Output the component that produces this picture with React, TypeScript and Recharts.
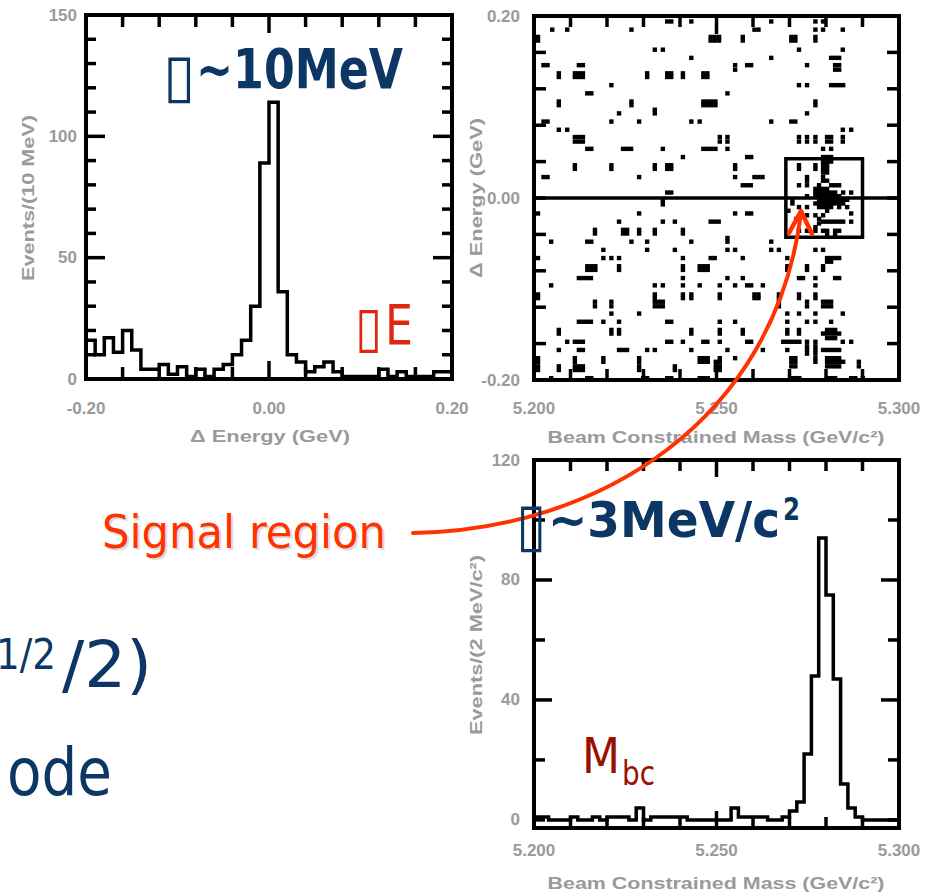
import React from "react";
import {
  ComposedChart,
  ScatterChart,
  Line,
  Scatter,
  XAxis,
  YAxis,
  ReferenceLine,
  ReferenceArea,
} from "recharts";

// ---------------- data ----------------
// ΔE histogram: bin edges (GeV) and counts per 10 MeV bin
const deltaEEdges = [
  -0.2, -0.19, -0.18, -0.17, -0.16, -0.15, -0.14, -0.13, -0.12, -0.11, -0.1,
  -0.09, -0.08, -0.07, -0.06, -0.05, -0.04, -0.03, -0.02, -0.01, 0, 0.01, 0.02,
  0.03, 0.04, 0.05, 0.06, 0.07, 0.08, 0.09, 0.1, 0.11, 0.12, 0.13, 0.14, 0.15,
  0.16, 0.17, 0.18, 0.19, 0.2,
];
const deltaECounts = [
  16, 10, 17, 11, 20, 12, 4, 4, 6, 2, 5, 1, 4, 1, 4, 6, 10, 16, 30, 89, 114, 36,
  10, 7, 3, 5, 7, 3, 1, 1, 1, 1, 4, 1, 3, 1, 1, 1, 3, 3,
];

// Mbc histogram: bin edges (GeV/c^2) and counts per 2 MeV bin
const mbcEdges = [
  5.2, 5.202, 5.204, 5.206, 5.208, 5.21, 5.212, 5.214, 5.216, 5.218, 5.22,
  5.222, 5.224, 5.226, 5.228, 5.23, 5.232, 5.234, 5.236, 5.238, 5.24, 5.242,
  5.244, 5.246, 5.248, 5.25, 5.252, 5.254, 5.256, 5.258, 5.26, 5.262, 5.264,
  5.266, 5.268, 5.27, 5.272, 5.274, 5.276, 5.278, 5.28, 5.282, 5.284, 5.286,
  5.288, 5.29, 5.292, 5.294, 5.296, 5.298, 5.3,
];
const mbcCounts = [
  1, 1, 0, 0, 0, 1, 0, 0, 1, 0, 1, 1, 1, 0, 4, 0, 1, 1, 1, 1, 1, 0, 0, 0, 0, 0,
  0, 4, 1, 1, 1, 1, 0, 0, 1, 3, 6, 22, 48, 94, 75, 47, 12, 4, 1, 0, 0, 0, 0, 0,
];

// scatter events: [Mbc, ΔE]
const events: [number, number][] = [
  [5.2365,0.194],[5.2376,0.194],[5.2431,0.194],[5.205,0.185],[5.2091,0.185],[5.2267,0.185],
  [5.2011,0.177],[5.2011,0.173],[5.2484,0.177],[5.2495,0.177],[5.2507,0.177],[5.2484,0.173],[5.2495,0.173],[5.2507,0.173],
  [5.2331,0.163],[5.2353,0.163],[5.2431,0.154],[5.2026,0.146],[5.2037,0.146],[5.2123,0.146],[5.2134,0.146],
  [5.2068,0.137],[5.2068,0.133],[5.2112,0.137],[5.2123,0.137],[5.2134,0.137],[5.2112,0.133],[5.2123,0.133],[5.2134,0.133],
  [5.231,0.137],[5.231,0.133],[5.2365,0.137],[5.2376,0.137],[5.2365,0.133],[5.2376,0.133],[5.2408,0.137],[5.2408,0.133],
  [5.2464,0.137],[5.2475,0.137],[5.2464,0.133],[5.2475,0.133],[5.2212,0.124],[5.2146,0.115],[5.2157,0.115],
  [5.2068,0.106],[5.2068,0.102],[5.2267,0.106],[5.2267,0.102],
  [5.2464,0.106],[5.2475,0.106],[5.2486,0.106],[5.2497,0.106],[5.2464,0.102],[5.2475,0.102],[5.2486,0.102],[5.2497,0.102],
  [5.2233,0.093],[5.2331,0.097],[5.2331,0.093],
  [5.2026,0.084],[5.2037,0.084],[5.2212,0.084],[5.2288,0.084],[5.2431,0.084],[5.2454,0.084],[5.2068,0.075],[5.2091,0.075],
  [5.2112,0.067],[5.2123,0.067],[5.2134,0.067],[5.2112,0.062],[5.2123,0.062],[5.2134,0.062],
  [5.2146,0.054],[5.2157,0.054],[5.2244,0.054],[5.2255,0.054],[5.2266,0.054],[5.2353,0.054],
  [5.2464,0.054],[5.2475,0.054],[5.2486,0.054],[5.2497,0.054],[5.2408,0.045],
  [5.2112,0.036],[5.2112,0.032],[5.2212,0.036],[5.2212,0.032],[5.2331,0.036],[5.2331,0.032],
  [5.2365,0.036],[5.2376,0.036],[5.2365,0.032],[5.2376,0.032],[5.2026,0.023],[5.2037,0.023],[5.2288,0.023],
  [5.2365,0.006],[5.2376,0.006],
  [5.265,0.194],[5.2771,0.194],[5.2792,0.194],[5.2604,0.185],[5.2615,0.185],[5.2771,0.185],[5.2792,0.185],[5.2846,0.185],
  [5.2572,0.177],[5.2572,0.173],[5.2705,0.177],[5.2716,0.177],[5.2705,0.173],[5.2716,0.173],[5.2771,0.177],[5.2771,0.173],
  [5.2726,0.163],[5.2846,0.163],[5.265,0.154],[5.2814,0.154],[5.2825,0.154],[5.2836,0.154],
  [5.2551,0.146],[5.2551,0.141],[5.2584,0.146],[5.2595,0.146],[5.2748,0.146],
  [5.2825,0.146],[5.2836,0.146],[5.2825,0.141],[5.2836,0.141],
  [5.2726,0.124],[5.2748,0.124],[5.2814,0.124],[5.2825,0.124],[5.2836,0.124],[5.2847,0.124],[5.253,0.115],
  [5.2771,0.106],[5.2771,0.102],[5.2748,0.093],[5.265,0.084],[5.2705,0.084],[5.2716,0.084],[5.2846,0.075],[5.2869,0.075],
  [5.2509,0.067],[5.2509,0.062],[5.253,0.067],[5.253,0.062],[5.2726,0.067],[5.2726,0.062],[5.2748,0.067],[5.2748,0.062],
  [5.2771,0.067],[5.2771,0.062],[5.2803,0.067],[5.2814,0.067],[5.2803,0.062],[5.2814,0.062],[5.2846,0.067],[5.2846,0.062],
  [5.253,0.054],[5.2792,0.054],[5.2814,0.054],[5.2584,0.045],[5.2595,0.045],[5.2792,0.045],[5.2803,0.045],[5.2814,0.045],
  [5.2551,0.036],[5.2551,0.032],[5.2551,0.023],[5.2604,0.023],[5.2615,0.023],[5.2626,0.023],[5.2572,0.014],[5.2583,0.014],[5.2594,0.014],
  [5.2726,0.036],[5.2726,0.032],[5.2726,0.014],[5.2726,-0.01],[5.2726,-0.023],[5.2726,-0.036],
  [5.2748,0.023],[5.2748,0.019],[5.2748,0.014],[5.2748,0.002],[5.2748,-0.01],[5.2748,-0.019],[5.2748,-0.036],
  [5.2771,0.036],[5.2771,0.032],[5.2771,0.01],[5.2771,0.006],[5.2771,0.002],[5.2771,-0.006],[5.2771,-0.019],[5.2771,-0.032],[5.2771,-0.036],
  [5.2781,0.014],[5.2781,0.01],[5.2781,0.006],[5.2781,0.002],[5.2781,-0.002],[5.2781,-0.006],[5.2781,-0.01],[5.2781,-0.023],[5.2781,-0.028],
  [5.2792,0.04],[5.2792,0.036],[5.2792,0.032],[5.2792,0.028],[5.2792,0.023],[5.2792,0.019],[5.2792,0.01],[5.2792,0.006],[5.2792,0.002],
  [5.2792,-0.002],[5.2792,-0.006],[5.2792,-0.01],[5.2792,-0.019],[5.2792,-0.026],[5.2792,-0.036],
  [5.2803,0.04],[5.2803,0.036],[5.2803,0.032],[5.2803,0.028],[5.2803,0.019],[5.2803,0.01],[5.2803,0.006],[5.2803,0.002],
  [5.2803,-0.002],[5.2803,-0.006],[5.2803,-0.01],[5.2803,-0.014],[5.2803,-0.026],[5.2803,-0.036],[5.2803,-0.04],
  [5.2814,0.04],[5.2814,0.014],[5.2814,0.006],[5.2814,0.002],[5.2814,-0.002],[5.2814,-0.006],[5.2814,-0.01],[5.2814,-0.026],
  [5.2825,0.014],[5.2825,0.006],[5.2825,0.002],[5.2825,-0.002],[5.2825,-0.006],[5.2825,-0.026],[5.2825,-0.036],[5.2825,-0.04],
  [5.2836,0.014],[5.2836,0.002],[5.2836,-0.002],[5.2836,-0.006],[5.2836,-0.01],[5.2836,-0.026],[5.2836,-0.036],
  [5.2847,0.006],[5.2847,-0.002],[5.2847,-0.006],[5.2847,-0.026],[5.2858,-0.002],[5.2858,-0.01],
  [5.2869,0.006],[5.2869,-0.017],[5.2869,-0.026],[5.2708,-0.002],[5.2708,-0.006],[5.2697,-0.014],[5.2719,-0.023],
  [5.2353,-0.003],[5.2353,-0.007],[5.2011,-0.017],[5.2288,-0.017],
  [5.2233,-0.026],[5.2353,-0.026],[5.2386,-0.026],[5.2484,-0.026],[5.2495,-0.026],[5.2506,-0.026],
  [5.2167,-0.035],[5.2167,-0.039],[5.2244,-0.035],[5.2255,-0.035],[5.2244,-0.039],[5.2255,-0.039],[5.2288,-0.035],[5.2288,-0.039],
  [5.2331,-0.035],[5.2331,-0.039],[5.2408,-0.035],[5.2408,-0.039],
  [5.2047,-0.048],[5.2146,-0.048],[5.2157,-0.048],[5.2267,-0.048],[5.231,-0.048],[5.2431,-0.048],
  [5.219,-0.057],[5.231,-0.057],[5.2386,-0.057],
  [5.2011,-0.066],[5.219,-0.066],[5.2212,-0.066],[5.2233,-0.066],[5.2408,-0.066],[5.2484,-0.066],[5.2495,-0.066],
  [5.2146,-0.075],[5.2157,-0.075],[5.2168,-0.075],[5.2146,-0.079],[5.2157,-0.079],[5.2168,-0.079],
  [5.2233,-0.075],[5.2233,-0.079],[5.2408,-0.075],[5.2408,-0.079],
  [5.2454,-0.075],[5.2465,-0.075],[5.2476,-0.075],[5.2454,-0.079],[5.2465,-0.079],[5.2476,-0.079],
  [5.2123,-0.088],[5.2134,-0.088],[5.2145,-0.088],[5.2156,-0.088],[5.2408,-0.088],
  [5.2047,-0.096],[5.2331,-0.096],[5.2353,-0.096],[5.2408,-0.096],[5.2454,-0.096],
  [5.2011,-0.106],[5.2011,-0.11],[5.2331,-0.106],[5.2331,-0.11],[5.2408,-0.106],[5.2408,-0.11],[5.2431,-0.106],[5.2431,-0.11],
  [5.2331,-0.114],[5.2342,-0.114],[5.2353,-0.114],[5.2331,-0.119],[5.2342,-0.119],[5.2353,-0.119],
  [5.2167,-0.114],[5.2167,-0.119],[5.2212,-0.114],[5.2212,-0.119],[5.2212,-0.127],[5.2288,-0.127],
  [5.2123,-0.136],[5.2134,-0.136],[5.2145,-0.136],[5.2156,-0.136],[5.219,-0.136],[5.2233,-0.136],[5.2365,-0.136],[5.2376,-0.136],
  [5.2068,-0.145],[5.2068,-0.149],[5.2212,-0.145],[5.2212,-0.149],[5.2233,-0.145],[5.2233,-0.149],[5.2431,-0.145],[5.2431,-0.149],
  [5.2091,-0.158],[5.2112,-0.158],[5.2123,-0.158],[5.2134,-0.158],[5.2365,-0.158],[5.2376,-0.158],[5.2408,-0.158],[5.2464,-0.158],[5.2475,-0.158],
  [5.2068,-0.167],[5.2123,-0.167],[5.2134,-0.167],[5.2233,-0.167],[5.2244,-0.167],[5.2255,-0.167],[5.231,-0.167],[5.2331,-0.167],[5.2431,-0.167],
  [5.2011,-0.176],[5.2011,-0.18],[5.2011,-0.185],[5.2011,-0.189],[5.2112,-0.176],[5.2112,-0.18],[5.219,-0.176],[5.219,-0.18],
  [5.2288,-0.176],[5.2288,-0.18],[5.2288,-0.185],[5.2288,-0.189],
  [5.2454,-0.176],[5.2465,-0.176],[5.2476,-0.176],[5.2454,-0.18],[5.2465,-0.18],[5.2476,-0.18],
  [5.2068,-0.185],[5.2068,-0.189],[5.2112,-0.185],[5.2123,-0.185],[5.2134,-0.185],[5.2112,-0.189],[5.2123,-0.189],[5.2134,-0.189],
  [5.2386,-0.185],[5.2386,-0.189],[5.2498,-0.18],[5.2498,-0.185],[5.2498,-0.189],
  [5.2047,-0.198],[5.2146,-0.198],[5.2157,-0.198],[5.2299,-0.198],[5.231,-0.198],[5.2365,-0.198],[5.2376,-0.198],[5.2454,-0.198],[5.2465,-0.198],[5.2476,-0.198],
  [5.2551,-0.017],[5.2584,-0.017],[5.2595,-0.017],[5.253,-0.044],[5.253,-0.048],[5.265,-0.048],
  [5.253,-0.057],[5.2551,-0.057],[5.265,-0.057],[5.2671,-0.057],[5.2771,-0.057],[5.2792,-0.057],
  [5.2572,-0.066],[5.2694,-0.066],[5.2803,-0.066],[5.2814,-0.066],[5.2825,-0.066],[5.2836,-0.066],[5.2803,-0.07],[5.2814,-0.07],
  [5.2694,-0.075],[5.2694,-0.079],[5.2748,-0.075],[5.2748,-0.079],[5.2792,-0.075],[5.2792,-0.079],
  [5.253,-0.088],[5.2572,-0.088],[5.2726,-0.088],[5.2737,-0.088],[5.2771,-0.088],[5.2825,-0.088],[5.2836,-0.088],
  [5.2509,-0.096],[5.2551,-0.096],[5.2584,-0.096],[5.2595,-0.096],[5.2627,-0.096],[5.2771,-0.096],
  [5.2509,-0.106],[5.2509,-0.11],[5.2604,-0.106],[5.2615,-0.106],[5.2604,-0.11],[5.2615,-0.11],
  [5.2671,-0.106],[5.2671,-0.11],[5.2671,-0.114],[5.2671,-0.119],[5.2726,-0.106],[5.2726,-0.11],[5.2771,-0.106],[5.2771,-0.11],
  [5.2748,-0.114],[5.2748,-0.119],[5.2792,-0.114],[5.2803,-0.114],[5.2814,-0.114],[5.2792,-0.119],[5.2803,-0.119],[5.2814,-0.119],
  [5.2694,-0.127],[5.2726,-0.127],[5.2771,-0.127],[5.2846,-0.127],
  [5.2509,-0.136],[5.2551,-0.136],[5.2694,-0.136],[5.2748,-0.136],[5.2771,-0.136],[5.2814,-0.136],
  [5.2509,-0.145],[5.2509,-0.149],[5.2572,-0.145],[5.2572,-0.149],[5.2694,-0.145],[5.2694,-0.149],[5.2726,-0.145],[5.2726,-0.149],
  [5.2803,-0.145],[5.2814,-0.145],[5.2825,-0.145],[5.2792,-0.149],[5.2803,-0.149],[5.2814,-0.149],[5.2825,-0.149],[5.2836,-0.149],
  [5.2803,-0.154],[5.2814,-0.154],[5.2825,-0.154],
  [5.2509,-0.158],[5.2584,-0.158],[5.2595,-0.158],[5.2683,-0.158],[5.2694,-0.158],[5.2705,-0.158],[5.2716,-0.158],[5.2727,-0.158],
  [5.2748,-0.158],[5.2748,-0.163],[5.2748,-0.167],[5.2748,-0.171],[5.2771,-0.158],[5.2771,-0.163],[5.2771,-0.167],[5.2771,-0.171],
  [5.2846,-0.158],[5.2869,-0.158],
  [5.253,-0.167],[5.2627,-0.167],[5.2694,-0.167],[5.2792,-0.167],[5.2803,-0.167],[5.2814,-0.167],[5.2825,-0.167],[5.2836,-0.167],
  [5.2509,-0.176],[5.2509,-0.18],[5.2509,-0.185],[5.2509,-0.189],[5.2551,-0.176],
  [5.2705,-0.176],[5.2716,-0.176],[5.2705,-0.18],[5.2716,-0.18],[5.2705,-0.185],[5.2716,-0.185],[5.2771,-0.176],[5.2771,-0.18],
  [5.2803,-0.176],[5.2814,-0.176],[5.2825,-0.176],[5.2836,-0.176],[5.2803,-0.18],[5.2814,-0.18],[5.2825,-0.18],[5.2836,-0.18],[5.2847,-0.18],
  [5.2803,-0.185],[5.2814,-0.185],[5.2825,-0.185],[5.2836,-0.185],[5.289,-0.18],[5.289,-0.185],
  [5.2869,-0.198],[5.288,-0.198],[5.2705,-0.198],[5.2716,-0.198],[5.2727,-0.198],[5.2803,-0.198],[5.2814,-0.198],[5.2825,-0.198],[5.2901,-0.198],
];

// signal region (Mbc range, ΔE range)
const signalMbc = [5.269, 5.29];
const signalDeltaE = [-0.043, 0.043];

// ticks and labels
const deltaETicks = [-0.2, -0.16, -0.12, -0.08, -0.04, 0, 0.04, 0.08, 0.12, 0.16, 0.2];
const deltaEMajor = [0];
const deltaELabelValues = [-0.2, 0, 0.2];
const deltaELabelTexts = ["-0.20", "0.00", "0.20"];

const mbcTicks = [5.2, 5.21, 5.22, 5.23, 5.24, 5.25, 5.26, 5.27, 5.28, 5.29, 5.3];
const mbcMajor = [5.25];
const mbcLabelValues = [5.2, 5.25, 5.3];
const mbcLabelTexts = ["5.200", "5.250", "5.300"];

const countTicks1 = [0, 10, 20, 30, 40, 50, 60, 70, 80, 90, 100, 110, 120, 130, 140, 150];
const countMajor1 = [50, 100];
const countLabelValues1 = [0, 50, 100, 150];
const countLabelTexts1 = ["0", "50", "100", "150"];

const countTicks3 = [0, 20, 40, 60, 80, 100, 120];
const countMajor3 = [40, 80];
const countLabelValues3 = [0, 40, 80, 120];
const countLabelTexts3 = ["0", "40", "80", "120"];

// ---------------- helpers ----------------
const deltaEHist = deltaEEdges.map((x, i) => ({ x, y: deltaECounts[Math.min(i, deltaECounts.length - 1)] }));
const mbcHist = mbcEdges.map((x, i) => ({ x, y: mbcCounts[Math.min(i, mbcCounts.length - 1)] }));
const eventPoints = events.map(([m, e]) => ({ m, e }));

type Side = "left" | "right" | "top" | "bottom";
interface Box { left: number; top: number; right: number; bottom: number }
const near = (a: number, b: number) => Math.abs(a - b) < 1e-9;
const TICK_W = 3.5;
const LABEL_STYLE = {
  fill: "#9a9a9a",
  fontSize: 17,
  fontFamily: "'Liberation Sans', Arial, sans-serif",
  fontWeight: 700,
};

function makeTick(
  side: Side,
  box: Box,
  majors: number[],
  minorLen: number,
  majorLen: number,
  labelValues: number[] = [],
  labelTexts: string[] = [],
  gap = 0
) {
  return (props: any) => {
    const v = Number(props?.payload?.value);
    const len = majors.some((m) => near(m, v)) ? majorLen : minorLen;
    const li = labelValues.findIndex((m) => near(m, v));
    const text = li >= 0 ? labelTexts[li] : null;
    if (side === "left" || side === "right") {
      const y = props.y;
      const x0 = side === "left" ? box.left : box.right;
      const x1 = side === "left" ? x0 + len : x0 - len;
      return (
        <g>
          <line x1={x0} y1={y} x2={x1} y2={y} stroke="#000" strokeWidth={TICK_W} />
          {text !== null && (
            <text x={box.left - gap} y={y} textAnchor="end" dominantBaseline="central" {...LABEL_STYLE}>
              {text}
            </text>
          )}
        </g>
      );
    }
    const x = props.x;
    const y0 = side === "bottom" ? box.bottom : box.top;
    const y1 = side === "bottom" ? y0 - len : y0 + len;
    return (
      <g>
        <line x1={x} y1={y0} x2={x} y2={y1} stroke="#000" strokeWidth={TICK_W} />
        {text !== null && (
          <text x={x} y={box.bottom + gap} textAnchor="middle" dominantBaseline="central" {...LABEL_STYLE}>
            {text}
          </text>
        )}
      </g>
    );
  };
}

const cellShape = (p: any) => (
  <rect x={p.cx - 2.2} y={p.cy - 2.2} width={4.4} height={4.4} fill="#000" />
);

// layout (plot rectangles in each chart's own coordinates)
const B1: Box = { left: 86, top: 15, right: 452, bottom: 379 };
const W1 = 470, H1 = 450;
const B2: Box = { left: 64, top: 16, right: 429, bottom: 380 };
const W2 = 471, H2 = 450;
const B3: Box = { left: 74, top: 20, right: 439, bottom: 388 };
const W3 = 481, H3 = 454;

const navy = "#0c3764";
const red = "#e0260f";
const orange = "#ff3300";
const darkRed = "#991100";
const gray = "#9a9a9a";
const annoFont = "'DejaVu Sans', 'Noto Sans', sans-serif";
const axisFont = "'Liberation Sans', Arial, sans-serif";

// frame of a plot drawn in its own chart coordinates
function Frame({ box }: { box: Box }) {
  return (
    <rect x={box.left} y={box.top} width={box.right - box.left} height={box.bottom - box.top}
      fill="none" stroke="#000" strokeWidth={4} />
  );
}

function AxisTitle(props: { x: number; y: number; rotate?: boolean; len: number; children: React.ReactNode }) {
  const { x, y, rotate, len, children } = props;
  return (
    <text
      x={x}
      y={y}
      transform={rotate ? `rotate(-90 ${x} ${y})` : undefined}
      textAnchor="middle"
      dominantBaseline="central"
      fontFamily={axisFont}
      fontSize={16}
      fontWeight={700}
      fill={gray}
      textLength={len}
      lengthAdjust="spacingAndGlyphs"
    >
      {children}
    </text>
  );
}

const axisCommon = {
  type: "number" as const,
  allowDataOverflow: true,
  interval: 0 as const,
  mirror: true,
  tickSize: 0,
  tickMargin: 0,
  tickLine: false,
  axisLine: false,
};

export default function App() {
  return (
    <div style={{ position: "absolute", left: 0, top: 0, width: 941, height: 894, background: "#fff", overflow: "hidden" }}>
      {/* ΔE histogram */}
      <div style={{ position: "absolute", left: 0, top: 0 }}>
        <ComposedChart
          width={W1}
          height={H1}
          data={deltaEHist}
          margin={{ top: B1.top, left: B1.left, right: W1 - B1.right, bottom: H1 - B1.bottom }}
        >
          <XAxis xAxisId="b" dataKey="x" {...axisCommon} domain={[-0.2, 0.2]} ticks={deltaETicks} orientation="bottom" height={2}
            tick={makeTick("bottom", B1, deltaEMajor, 12, 18, deltaELabelValues, deltaELabelTexts, 29)} />
          <XAxis xAxisId="t" dataKey="x" {...axisCommon} domain={[-0.2, 0.2]} ticks={deltaETicks} orientation="top" height={2}
            tick={makeTick("top", B1, deltaEMajor, 12, 18)} />
          <YAxis yAxisId="l" {...axisCommon} domain={[0, 150]} ticks={countTicks1} orientation="left" width={2}
            tick={makeTick("left", B1, countMajor1, 10, 19, countLabelValues1, countLabelTexts1, 9)} />
          <YAxis yAxisId="r" {...axisCommon} domain={[0, 150]} ticks={countTicks1} orientation="right" width={2}
            tick={makeTick("right", B1, countMajor1, 10, 19)} />
          <Line xAxisId="b" yAxisId="l" dataKey="y" type="stepAfter" stroke="#000" strokeWidth={3.5}
            dot={false} activeDot={false} isAnimationActive={false} />
          <Frame box={B1} />
        </ComposedChart>
      </div>

      {/* scatter Mbc vs ΔE */}
      <div style={{ position: "absolute", left: 470, top: 0 }}>
        <ScatterChart
          width={W2}
          height={H2}
          margin={{ top: B2.top, left: B2.left, right: W2 - B2.right, bottom: H2 - B2.bottom }}
        >
          <XAxis xAxisId="b" dataKey="m" {...axisCommon} domain={[5.2, 5.3]} ticks={mbcTicks} orientation="bottom" height={2}
            tick={makeTick("bottom", B2, mbcMajor, 11, 18, mbcLabelValues, mbcLabelTexts, 28)} />
          <XAxis xAxisId="t" dataKey="m" {...axisCommon} domain={[5.2, 5.3]} ticks={mbcTicks} orientation="top" height={2}
            tick={makeTick("top", B2, mbcMajor, 11, 18)} />
          <YAxis yAxisId="l" dataKey="e" {...axisCommon} domain={[-0.2, 0.2]} ticks={deltaETicks} orientation="left" width={2}
            tick={makeTick("left", B2, [], 12, 12, deltaELabelValues, deltaELabelTexts, 14)} />
          <YAxis yAxisId="r" dataKey="e" {...axisCommon} domain={[-0.2, 0.2]} ticks={deltaETicks} orientation="right" width={2}
            tick={makeTick("right", B2, [], 12, 12)} />
          <Scatter xAxisId="b" yAxisId="l" data={eventPoints} shape={cellShape} isAnimationActive={false} />
          <ReferenceLine xAxisId="b" yAxisId="l" y={0} stroke="#000" strokeWidth={3.5} ifOverflow="visible" />
          <ReferenceArea xAxisId="b" yAxisId="l" x1={signalMbc[0]} x2={signalMbc[1]} y1={signalDeltaE[0]} y2={signalDeltaE[1]}
            fill="none" fillOpacity={0} stroke="#000" strokeWidth={3.5} ifOverflow="visible" />
          <Frame box={B2} />
        </ScatterChart>
      </div>

      {/* Mbc histogram */}
      <div style={{ position: "absolute", left: 460, top: 440 }}>
        <ComposedChart
          width={W3}
          height={H3}
          data={mbcHist}
          margin={{ top: B3.top, left: B3.left, right: W3 - B3.right, bottom: H3 - B3.bottom }}
        >
          <XAxis xAxisId="b" dataKey="x" {...axisCommon} domain={[5.2, 5.3]} ticks={mbcTicks} orientation="bottom" height={2}
            tick={makeTick("bottom", B3, mbcMajor, 11, 17, mbcLabelValues, mbcLabelTexts, 22)} />
          <XAxis xAxisId="t" dataKey="x" {...axisCommon} domain={[5.2, 5.3]} ticks={mbcTicks} orientation="top" height={2}
            tick={makeTick("top", B3, mbcMajor, 11, 17)} />
          <YAxis yAxisId="l" {...axisCommon} domain={[-2.7, 120]} ticks={countTicks3} orientation="left" width={2}
            tick={makeTick("left", B3, countMajor3, 11, 18, countLabelValues3, countLabelTexts3, 14)} />
          <YAxis yAxisId="r" {...axisCommon} domain={[-2.7, 120]} ticks={countTicks3} orientation="right" width={2}
            tick={makeTick("right", B3, countMajor3, 11, 18)} />
          <Line xAxisId="b" yAxisId="l" dataKey="y" type="stepAfter" stroke="#000" strokeWidth={3.5}
            dot={false} activeDot={false} isAnimationActive={false} />
          <Frame box={B3} />
        </ComposedChart>
      </div>

      {/* annotations */}
      <svg width={941} height={894} style={{ position: "absolute", left: 0, top: 0, pointerEvents: "none" }}>
        <AxisTitle x={28} y={198} rotate len={166}>Events/(10 MeV)</AxisTitle>
        <AxisTitle x={270} y={436} len={160}>Δ Energy (GeV)</AxisTitle>
        <AxisTitle x={476} y={198} rotate len={160}>Δ Energy (GeV)</AxisTitle>
        <AxisTitle x={716} y={437} len={337}>Beam Constrained Mass (GeV/c²)</AxisTitle>
        <AxisTitle x={476} y={645} rotate len={180}>Events/(2 MeV/c²)</AxisTitle>
        <AxisTitle x={716} y={883} len={337}>Beam Constrained Mass (GeV/c²)</AxisTitle>

        {/* σ ~ 10 MeV */}
        <text x={163} y={96} fontFamily={annoFont} fontSize={60} fill={navy} textLength={32} lengthAdjust="spacingAndGlyphs">▯</text>
        <text x={196} y={88} fontFamily={annoFont} fontSize={56} fontWeight={700} fill={navy} textLength={207} lengthAdjust="spacingAndGlyphs">~10MeV</text>

        {/* ΔE */}
        <text x={355} y={346} fontFamily={annoFont} fontSize={56} fill={red} textLength={27} lengthAdjust="spacingAndGlyphs">▯</text>
        <text x={385} y={344} fontFamily={annoFont} fontSize={56} fill={red} textLength={28} lengthAdjust="spacingAndGlyphs">E</text>

        {/* Signal region + arrow */}
        <text x={104} y={550} fontFamily={annoFont} fontSize={46} fill="#dcdcdc" textLength={284} lengthAdjust="spacingAndGlyphs">Signal region</text>
        <text x={102} y={548} fontFamily={annoFont} fontSize={46} fill={orange} textLength={284} lengthAdjust="spacingAndGlyphs">Signal region</text>
        <path d="M 413 533 C 600 530, 775 420, 801 213" fill="none" stroke={orange} strokeWidth={4} strokeLinecap="round" />
        <polyline points="789,233 801,211 812,234" fill="none" stroke={orange} strokeWidth={4.5} strokeLinecap="round" strokeLinejoin="round" />

        {/* σ ~ 3 MeV/c² */}
        <text x={516} y={545} fontFamily={annoFont} fontSize={60} fill={navy} textLength={30} lengthAdjust="spacingAndGlyphs">▯</text>
        <text x={548} y={537} fontFamily={annoFont} fontSize={50} fontWeight={700} fill={navy} textLength={232} lengthAdjust="spacingAndGlyphs">~3MeV/c</text>
        <text x={783} y={520} fontFamily={annoFont} fontSize={32} fontWeight={700} fill={navy} textLength={17} lengthAdjust="spacingAndGlyphs">2</text>

        {/* Mbc */}
        <text x={582} y={773} fontFamily={annoFont} fontSize={50} fill={darkRed} textLength={38} lengthAdjust="spacingAndGlyphs">M</text>
        <text x={622} y={785} fontFamily={annoFont} fontSize={34} fill={darkRed} textLength={33} lengthAdjust="spacingAndGlyphs">bc</text>

        {/* cut-off slide text */}
        <text x={-4} y={669} fontFamily={annoFont} fontSize={42} fill={navy} textLength={60} lengthAdjust="spacingAndGlyphs">1/2</text>
        <text x={62} y={687} fontFamily={annoFont} fontSize={64} fill={navy} textLength={90} lengthAdjust="spacingAndGlyphs">/2)</text>
        <text x={5} y={795} textAnchor="end" fontFamily={annoFont} fontSize={66} fill={navy}>m</text>
        <text x={7} y={795} fontFamily={annoFont} fontSize={66} fill={navy} textLength={105} lengthAdjust="spacingAndGlyphs">ode</text>
      </svg>
    </div>
  );
}
